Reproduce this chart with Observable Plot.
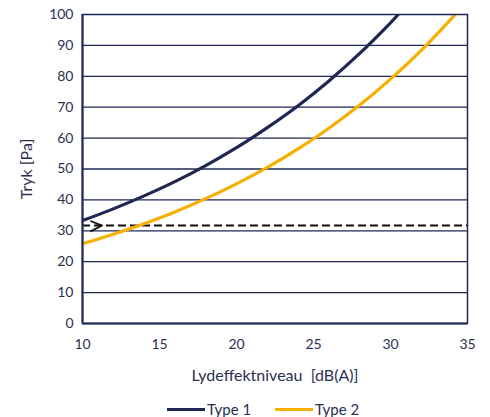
<!DOCTYPE html>
<html>
<head>
<meta charset="utf-8">
<script src="https://cdn.jsdelivr.net/npm/d3@7"></script>
<script src="https://cdn.jsdelivr.net/npm/@observablehq/plot@0.6"></script>
<style>
  html, body { margin: 0; padding: 0; background: #fff; }
  #chart { width: 490px; height: 417px; position: relative; font-family: Lato, "Open Sans", sans-serif; overflow: hidden; }
  .legend { position: absolute; top: 401px; left: 0; width: 490px; height: 16px; font-size: 15px; line-height: 16px; color: #2b3050; }
  .legend span { position: absolute; top: 0; display: inline-flex; align-items: center; height: 16px; line-height: 16px; }
  .legend i { display: inline-block; width: 38px; height: 3px; margin-right: 2px; }
</style>
</head>
<body>
<div id="chart"></div>
<script>
const xType1 = [10, 12, 14, 16, 18, 20, 22, 24, 26, 28, 30, 30.5];
const yType1 = [33.3, 37.1, 41.3, 45.9, 51.1, 56.9, 63.4, 70.5, 78.5, 87.4, 97.3, 100];
const xType2 = [10, 12, 14, 16, 18, 20, 22, 24, 26, 28, 30, 32, 34, 34.2];
const yType2 = [25.8, 28.9, 32.3, 36.1, 40.4, 45.2, 50.5, 56.5, 63.2, 70.7, 79.1, 88.4, 98.9, 100];
const seriesNames = ["Type 1", "Type 2"];
const seriesColors = ["#1f2753", "#f7b000"];
const refLevel = 31.7;
const chevronX = [10.56, 11.27, 10.56];
const chevronY = [33.1, 31.7, 29.9];
const xTicks = [10, 15, 20, 25, 30, 35];
const yTicks = [0, 10, 20, 30, 40, 50, 60, 70, 80, 90, 100];
const gridY = [10, 20, 30, 40, 50, 60, 70, 80, 90];
const xLabel = "Lydeffektniveau  [dB(A)]";
const yLabel = "Tryk [Pa]";

const t1 = xType1.map((x, i) => ({x, y: yType1[i]}));
const t2 = xType2.map((x, i) => ({x, y: yType2[i]}));
const chev = chevronX.map((x, i) => ({x, y: chevronY[i]}));
const navy = "#1f2753";
const textColor = "#2b3050";

const plot = Plot.plot({
  width: 490,
  height: 390,
  marginLeft: 82,
  marginRight: 23,
  marginTop: 14,
  marginBottom: 67,
  style: {fontFamily: "Lato, 'Open Sans', sans-serif", fontSize: "14px", color: textColor, background: "#fff"},
  x: {domain: [10, 35]},
  y: {domain: [0, 100]},
  marks: [
    Plot.ruleY(gridY, {stroke: navy, strokeWidth: 1.3}),
    Plot.ruleY([refLevel], {stroke: "#111", strokeWidth: 2, strokeDasharray: "8,4"}),
    Plot.line(chev, {x: "x", y: "y", stroke: "#111", strokeWidth: 1.8, fill: "none"}),
    Plot.line(t1, {x: "x", y: "y", stroke: seriesColors[0], strokeWidth: 3.2, curve: "catmull-rom", clip: true}),
    Plot.line(t2, {x: "x", y: "y", stroke: seriesColors[1], strokeWidth: 3.2, curve: "catmull-rom", clip: true}),
    Plot.frame({stroke: navy, strokeWidth: 1.5}),
    Plot.ruleX([10], {stroke: navy, strokeWidth: 2}),
    Plot.ruleY([0], {stroke: navy, strokeWidth: 2}),
    Plot.axisX(xTicks, {tickSize: 0, tickPadding: 16, label: null, fontSize: 14}),
    Plot.axisY(yTicks, {tickSize: 0, tickPadding: 9, label: null, fontSize: 14}),
    Plot.axisX([], {label: xLabel, labelAnchor: "center", labelOffset: 57, labelArrow: "none", fontSize: 16, tickSize: 0}),
    Plot.axisY([], {label: yLabel, labelAnchor: "center", labelOffset: 62, labelArrow: "none", fontSize: 16, tickSize: 0})
  ]
});
plot.style.position = "absolute";
plot.style.left = "0";
plot.style.top = "0";
const chart = document.getElementById("chart");
chart.appendChild(plot);

const legend = document.createElement("div");
legend.className = "legend";
const legendLeft = [167, 275];
seriesNames.forEach((n, i) => {
  const s = document.createElement("span");
  s.style.left = legendLeft[i] + "px";
  const sw = document.createElement("i");
  sw.style.background = seriesColors[i];
  s.appendChild(sw);
  s.appendChild(document.createTextNode(n));
  legend.appendChild(s);
});
chart.appendChild(legend);
</script>
</body>
</html>
